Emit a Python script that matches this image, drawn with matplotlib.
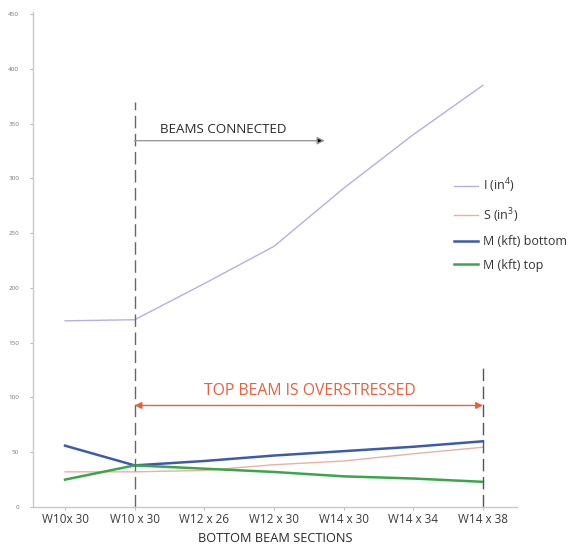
import matplotlib
matplotlib.use("Agg")
import matplotlib.pyplot as plt

sections = ["W10x 30", "W10 x 30", "W12 x 26", "W12 x 30", "W14 x 30", "W14 x 34", "W14 x 38"]
I_in4 = [170, 171, 204, 238, 291, 340, 385]
S_in3 = [32.1, 32.1, 33.4, 38.6, 42.0, 48.6, 54.6]
M_bottom = [56, 38, 42, 47, 51, 55, 60]
M_top = [25, 38, 35, 32, 28, 26, 23]
y_ticks = [0, 50, 100, 150, 200, 250, 300, 350, 400, 450]

plt.rcParams['font.family'] = ['Open Sans', 'DejaVu Sans']
plt.rcParams['mathtext.fontset'] = 'custom'
plt.rcParams['mathtext.rm'] = 'Open Sans'

fig = plt.figure(figsize=(5.68, 5.48), dpi=100)
ax = fig.add_axes([33/568, 1-507/548, (517-33)/568, (507-12)/548])

x = list(range(len(sections)))
ax.plot(x, I_in4, color='#b4b2dc', lw=1.0, label=r'I (in$^{\mathrm{4}}$)')
ax.plot(x, S_in3, color='#eab0a6', lw=1.0, label=r'S (in$^{\mathrm{3}}$)')
ax.plot(x, M_bottom, color='#3b5bb0', lw=1.8, label='M (kft) bottom')
ax.plot(x, M_top, color='#3aa64a', lw=1.8, label='M (kft) top')

ax.set_xlim(-0.46, 6.49)
ax.set_ylim(0, 452)
ax.set_yticks(y_ticks)
ax.set_yticklabels([str(v) for v in y_ticks], fontsize=4.5, color='#777777')
ax.set_xticks(x)
ax.set_xticklabels(sections, fontsize=8.5, color='#3a3a3a')
ax.tick_params(axis='both', length=2, color='#bbbbbb', pad=2)
ax.tick_params(axis='y', pad=8)
for s in ['top', 'right']:
    ax.spines[s].set_visible(False)
for s in ['left', 'bottom']:
    ax.spines[s].set_color('#c8c8c8')
    ax.spines[s].set_linewidth(1.0)
ax.set_xlabel('BOTTOM BEAM SECTIONS', fontsize=9.2, color='#2a2a2a', labelpad=5)

# dashed vertical lines
ax.plot([1, 1], [0, 370], color='#666666', lw=1.0, ls=(0, (9, 4)))
ax.plot([6, 6], [0, 129], color='#555555', lw=1.0, ls=(0, (9, 4)))

# beams connected arrow
ax.annotate('', xy=(3.73, 334.5), xytext=(1, 334.5),
            arrowprops=dict(arrowstyle='-|>', color='#999999', lw=1.0,
                            mutation_scale=11, shrinkA=0, shrinkB=0, fc='black', ec='#999999'))
ax.text(1.37, 345, 'BEAMS CONNECTED', fontsize=9.6, color='#2a2a2a', va='center', ha='left')

# overstressed arrow
ax.annotate('', xy=(6, 92.7), xytext=(1, 92.7),
            arrowprops=dict(arrowstyle='<|-|>', color='#e8603c', lw=1.0,
                            mutation_scale=10, shrinkA=0, shrinkB=0))
ax.text(3.51, 106, 'TOP BEAM IS OVERSTRESSED', fontsize=11.3, color='#e8603c', va='center', ha='center')

leg = fig.legend(loc='upper left', bbox_to_anchor=(443/568, 1-165.5/548), frameon=False,
                 fontsize=9, handlelength=1.9, labelspacing=0.85,
                 handletextpad=0.4, labelcolor='#333333')

fig.savefig('out.png', dpi=100)
